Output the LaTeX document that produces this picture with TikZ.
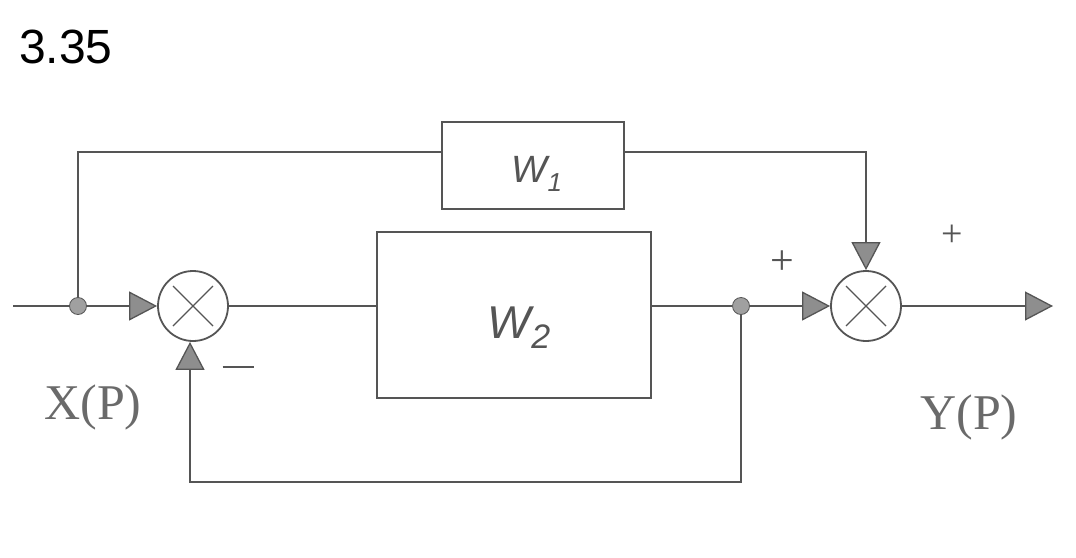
\documentclass[tikz,border=0pt]{standalone}
\usepackage{fontspec}
\setmainfont{Liberation Serif}
\setsansfont{Liberation Sans}
\usetikzlibrary{arrows.meta}
\definecolor{linecol}{HTML}{555555}
\definecolor{arrowfill}{HTML}{8E8E8E}
\definecolor{dotfill}{HTML}{A0A0A0}
\definecolor{labelcol}{HTML}{6A6A6A}
\tikzset{
  conn/.style={draw=linecol, line width=1.3pt},
  arrowconn/.style={conn, -{Triangle[length=28pt,width=29pt,fill=arrowfill]}},
  sumnode/.style={circle, draw=linecol, line width=1.8pt, minimum size=70pt, inner sep=0pt,
    path picture={
      \draw[linecol, line width=1.3pt] ([shift={(-20pt,20pt)}]path picture bounding box.center) -- ([shift={(20pt,-20pt)}]path picture bounding box.center);
      \draw[linecol, line width=1.3pt] ([shift={(-20pt,-20pt)}]path picture bounding box.center) -- ([shift={(20pt,20pt)}]path picture bounding box.center);
    }},
  blockbox/.style={rectangle, draw=linecol, line width=1.5pt, inner sep=0pt},
  junction/.style={circle, fill=dotfill, draw=linecol, line width=0.8pt, minimum size=17pt, inner sep=0pt},
  handw/.style={text=linecol, font=\sffamily\itshape},
  sig/.style={text=labelcol, font=\fontsize{50}{52}\selectfont},
  signmark/.style={text=linecol, inner sep=0pt}
}
\begin{document}
\begin{tikzpicture}[x=1pt, y=-1pt]
\useasboundingbox (0,0) rectangle (1076,557);
\fill[white] (0,0) rectangle (1076,557);

\node[anchor=base west, inner sep=0pt, font=\sffamily\fontsize{48}{50}\selectfont] (title) at (19,63) {3.35};

% nodes
\coordinate (in) at (13,306);
\node[junction] (j1) at (78,306) {};
\node[sumnode] (sum1) at (193,306) {};
\node[blockbox, minimum width=274pt, minimum height=166pt] (W2) at (514,315) {};
\node[handw, font=\sffamily\itshape\fontsize{46}{48}\selectfont] (W2lab) at (519,328) {W\raisebox{-0.22em}{\fontsize{34}{34}\selectfont 2}};
\node[junction] (j2) at (741,306) {};
\node[sumnode] (sum2) at (866,306) {};
\node[blockbox, minimum width=182pt, minimum height=87pt] (W1) at (533,165.5) {};
\node[handw, font=\sffamily\itshape\fontsize{38}{40}\selectfont] (W1lab) at (537,174) {W\raisebox{-0.22em}{\fontsize{26}{26}\selectfont 1}};
\coordinate (out) at (1053,306);
\coordinate (tl) at (78,152);
\coordinate (tr) at (866,152);
\coordinate (fb) at (741,482);

% connectors
\draw[conn] (in) -- (j1);
\draw[arrowconn] (j1) -- (sum1);
\draw[conn] (sum1.east) -- (sum1.east -| W2.west);
\draw[conn] (W2.east |- j2) -- (j2);
\draw[arrowconn] (j2) -- (sum2);
\draw[arrowconn] (sum2) -- (out);
\draw[conn] (j1) -- (tl) -- (tl -| W1.west);
\draw[arrowconn] (tl -| W1.east) -- (tr) -- (sum2);
\draw[arrowconn] (j2) -- (fb) -- (fb -| 190,0) -- (190,306 |- sum1.south);

% signs and labels
\node[signmark, font=\fontsize{42}{42}\selectfont] (p1) at (782,263) {+};
\node[signmark, font=\fontsize{38}{38}\selectfont] (p2) at (952,236) {+};
\node[signmark] (m1) at (238,367) {\rule{31pt}{1.4pt}};
\node[sig] (X) at (93,407) {X(P)};
\node[sig] (Y) at (969,417) {Y(P)};
\end{tikzpicture}
\end{document}
